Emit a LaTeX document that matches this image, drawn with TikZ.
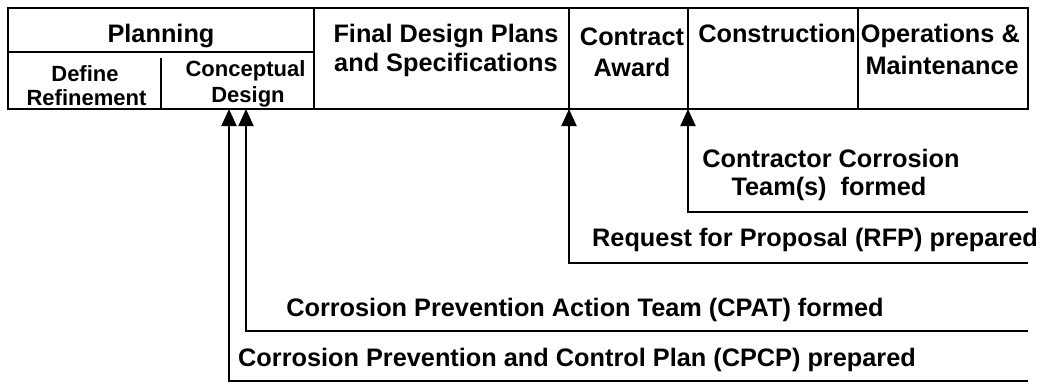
\documentclass[tikz,border=0pt]{standalone}
\usepackage{fontspec}
\setmainfont{Liberation Sans}
\usetikzlibrary{arrows.meta}
\begin{document}
\begin{tikzpicture}[x=1pt,y=-1pt,
  cell/.style={draw,line width=2pt,anchor=north west,inner sep=0pt,outer sep=0pt},
  big/.style={font=\fontsize{25.3}{29}\selectfont\bfseries,inner sep=0pt,anchor=base},
  small/.style={font=\fontsize{22}{24}\selectfont\bfseries,inner sep=0pt,anchor=base},
  conn/.style={line width=2pt,-{Triangle[width=15pt,length=17pt]}},
  divider/.style={line width=2pt}]
\useasboundingbox (0,0) rectangle (1044,383);
% table cells
\node[cell,minimum width=306pt,minimum height=44pt] (plan) at (8,8) {};
\node[cell,minimum width=306pt,minimum height=57pt] (sub) at (8,52) {};
\node[cell,minimum width=255pt,minimum height=101pt] (fdp) at (314,8) {};
\node[cell,minimum width=119pt,minimum height=101pt] (ca) at (569,8) {};
\node[cell,minimum width=170pt,minimum height=101pt] (con) at (688,8) {};
\node[cell,minimum width=170pt,minimum height=101pt] (om) at (858,8) {};
\coordinate (dtop) at (161,58);
\coordinate (dbot) at (161,109);
\draw[divider] (dtop) -- (dbot);
% header texts
\node[big] (tplan) at (161,42) {Planning};
\node[small] (tdef1) at (85,81) {Define};
\node[small] (tdef2) at (86.5,105) {Refinement};
\node[small] (tcon1) at (245.5,76) {Conceptual};
\node[small] (tcon2) at (248,102) {Design};
\node[big] (tfdp1) at (446,42) {Final Design Plans};
\node[big] (tfdp2) at (446,71) {and Specifications};
\node[big] (tca1) at (632,45) {Contract};
\node[big] (tca2) at (632,76) {Award};
\node[big] (tcon) at (777,42) {Construction};
\node[big,anchor=base east] (tom1) at (1020,42) {Operations \&};
\node[big,anchor=base east] (tom2) at (1019,74) {Maintenance};
% milestone texts
\node[big] (lcct1) at (831,167) {Contractor Corrosion};
\node[big] (lcct2) at (829,195) {Team(s)\ \ formed};
\node[big] (lrfp) at (815,246) {Request for Proposal (RFP) prepared};
\node[big] (lcpat) at (585,316) {Corrosion Prevention Action Team (CPAT) formed};
\node[big] (lcpcp) at (577,366) {Corrosion Prevention and Control Plan (CPCP) prepared};
% connector ends
\coordinate (e1) at (1028,212);
\coordinate (e2) at (1028,263);
\coordinate (e3) at (1028,331);
\coordinate (e4) at (1028,381);
\coordinate (t1) at (688,109);
\coordinate (t2) at (569,109);
\coordinate (t3) at (246,109);
\coordinate (t4) at (229,109);
\draw[conn] (e1) -| (t1);
\draw[conn] (e2) -| (t2);
\draw[conn] (e3) -| (t3);
\draw[conn] (e4) -| (t4);
\end{tikzpicture}
\end{document}
